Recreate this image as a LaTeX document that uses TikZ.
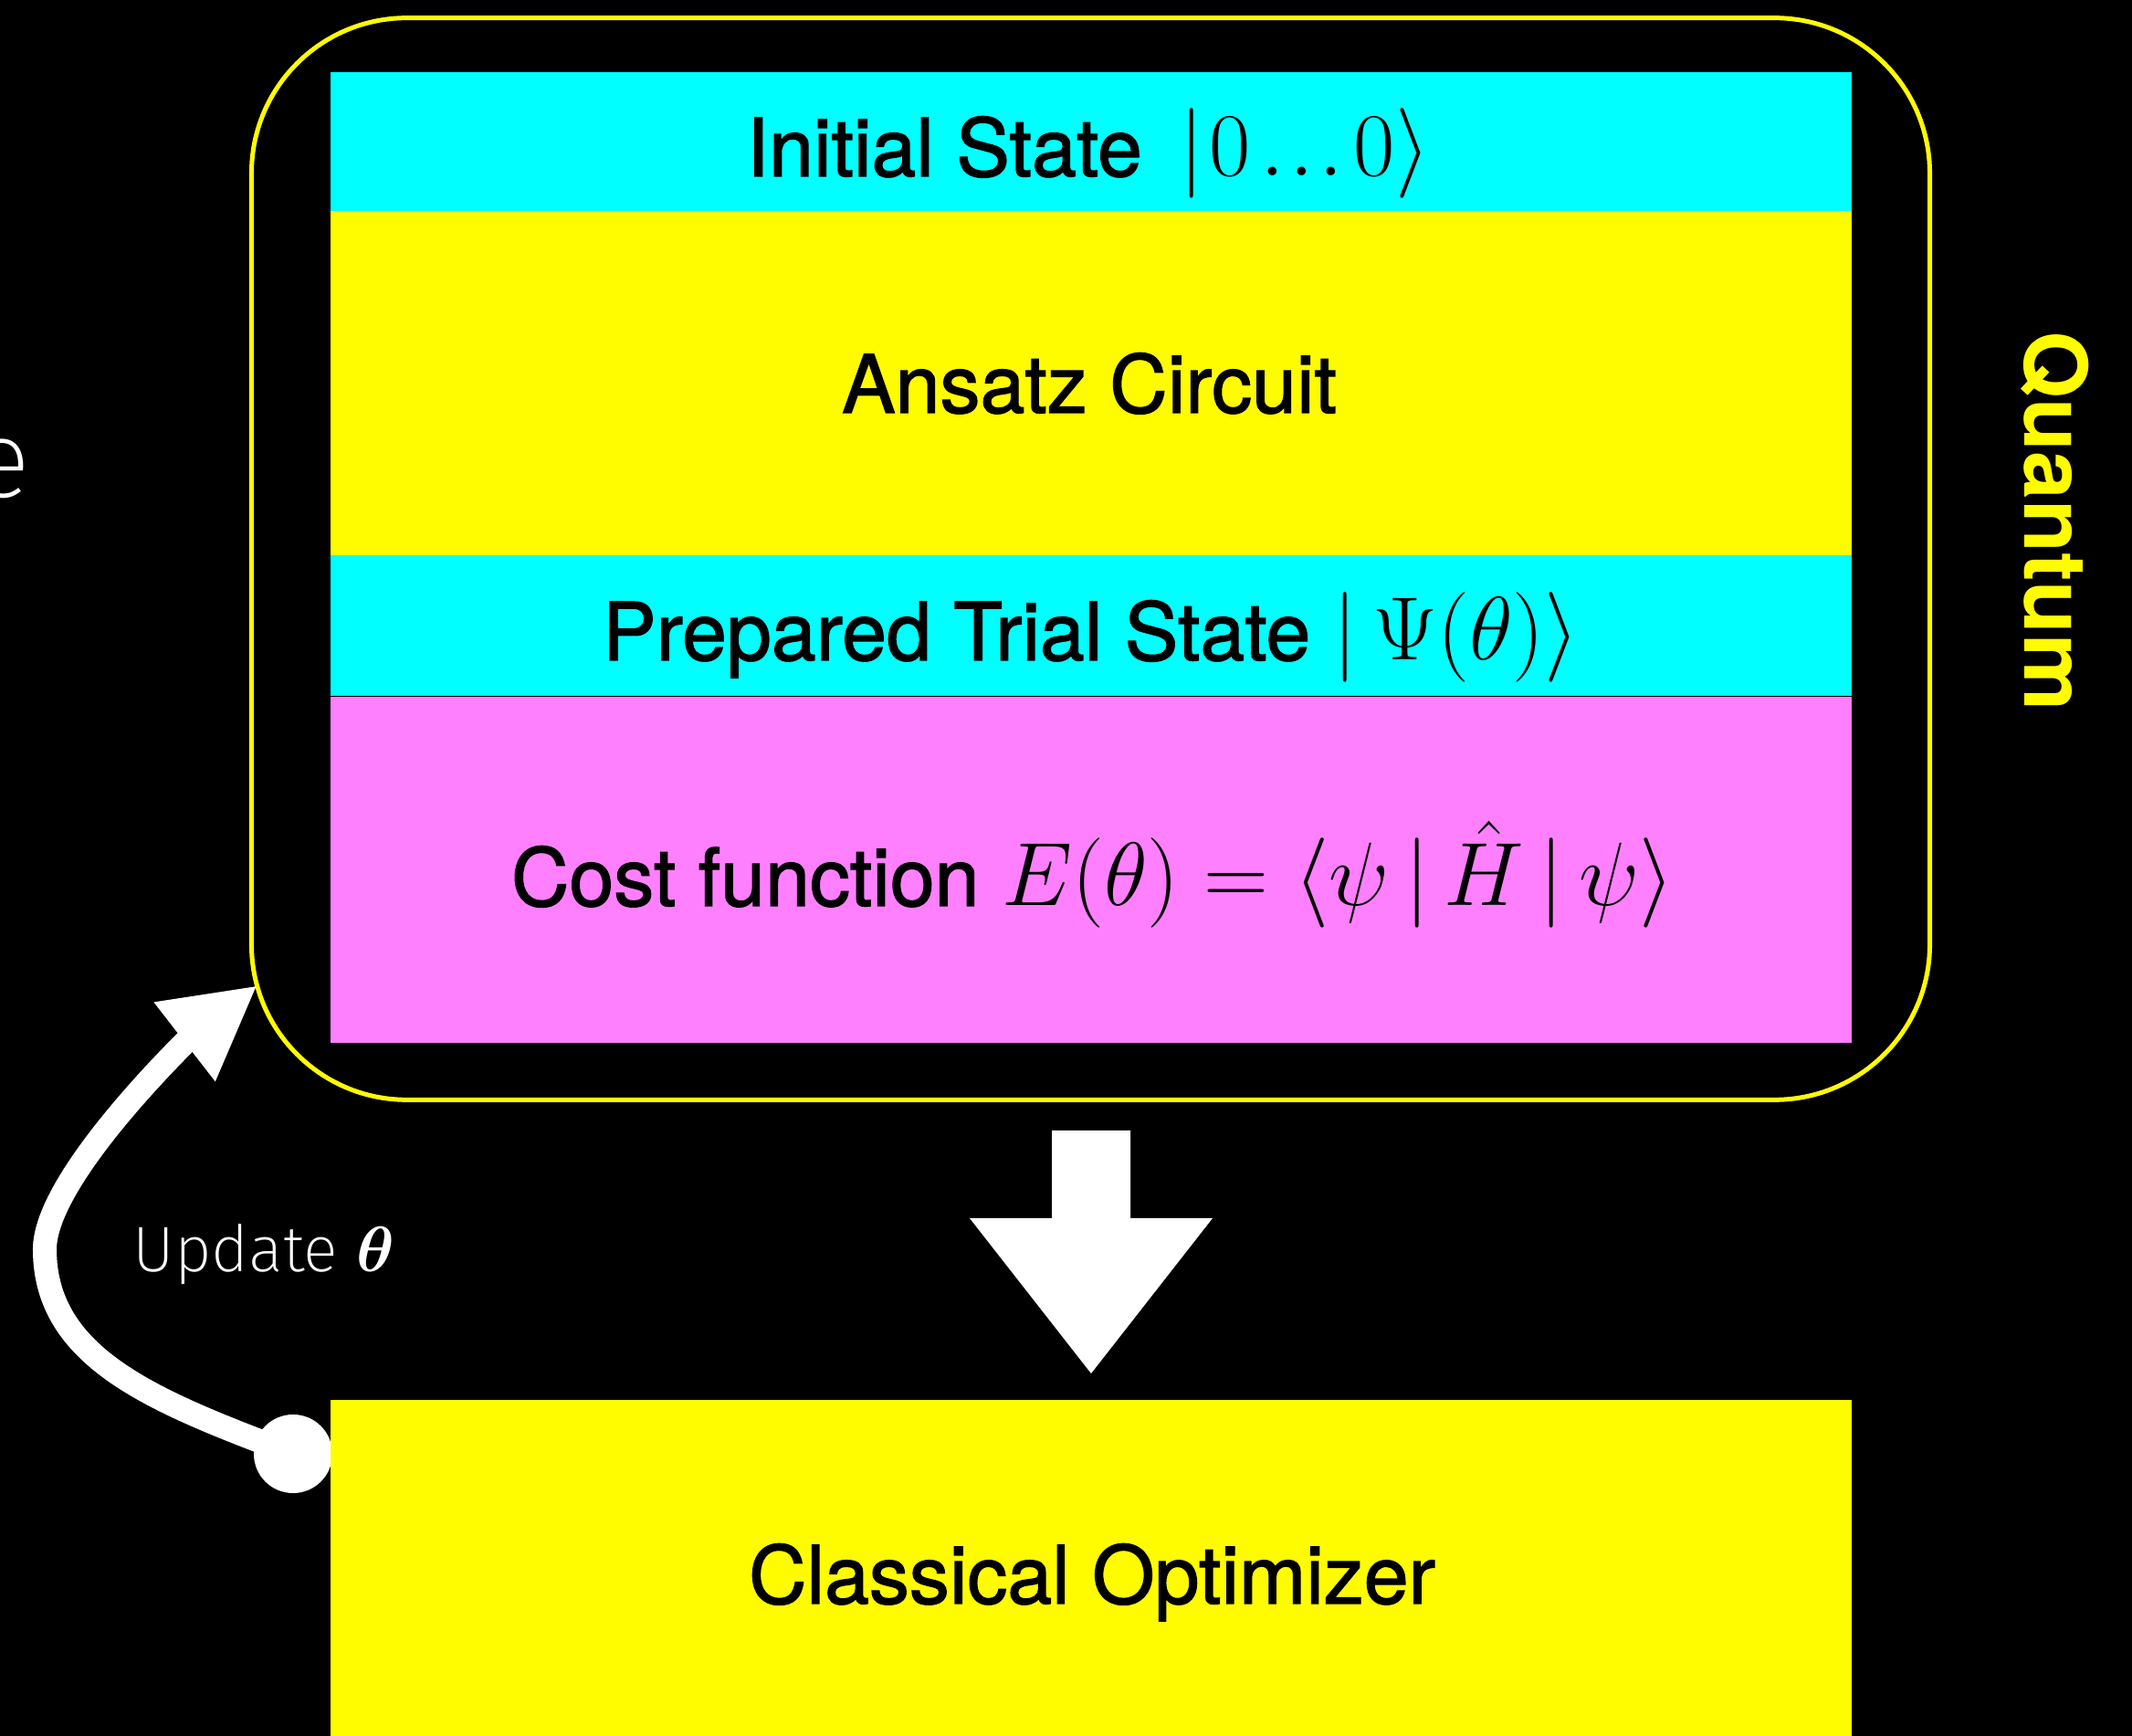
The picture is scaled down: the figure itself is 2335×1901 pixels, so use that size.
\RequirePackage{fix-cm}
\documentclass[tikz,border=0pt]{standalone}
\usepackage{amsmath}
\usepackage[no-math]{fontspec}
\setmainfont{TeX Gyre Heros}
\newfontfamily\labelfont{TeX Gyre Heros}[FakeBold=1.5]
\newfontfamily\thinfont{Fira Sans ExtraLight}
\usetikzlibrary{arrows.meta}

\definecolor{qyellow}{HTML}{FFFC00}
\definecolor{qcyan}{HTML}{00FFFF}
\definecolor{qpink}{HTML}{FF80FF}

% math set a little larger than the surrounding labels
\newcommand\eqpart[1]{{\fontsize{28}{33}\selectfont$#1$}}

\begin{document}
\begin{tikzpicture}[x=0.01cm,y=-0.01cm,
  band/.style={rectangle, inner sep=0, minimum width=16.66cm, draw=none},
  lbl/.style={inner sep=0, anchor=base, text=black, font=\fontsize{25}{30}\selectfont\labelfont},
  frame/.style={rectangle, draw=qyellow, line width=1.42pt, rounded corners=1.7cm, inner sep=0},
  loopline/.style={white, line width=7.4pt, -{Triangle[length=1.01cm,width=1.02cm]}}
]
\useasboundingbox (0,0) rectangle (2335,1901);
\fill[black] (0,0) rectangle (2335,1901);
\clip (0,0) rectangle (2335,1901);

% word cut off at the left edge
\node[anchor=base east, inner sep=0, text=white, font=\fontsize{34}{40}\selectfont\thinfont] (edgeword) at (34,545) {e};

% quantum part
\node[frame, minimum width=18.37cm, minimum height=11.84cm] (quantum) at (1194.5,612) {};
\node[band, fill=qcyan, minimum height=1.52cm] (initband) at (1195,155) {};
\node[band, fill=qyellow, minimum height=3.77cm] (ansatzband) at (1195,419.5) {};
\node[band, fill=qcyan, minimum height=1.54cm] (trialband) at (1195,685) {};
\node[band, fill=qpink, minimum height=3.80cm] (costband) at (1195,952) {};
\draw[black, line width=0.3pt] (trialband.south west) -- (trialband.south east);

\node[lbl] (init) at (1192,193) {Initial State \eqpart{\,\vert\mkern1mu 0\mkern2mu.\mkern1mu.\mkern1mu.\mkern2mu0\rangle}};
\node[lbl] (ansatz) at (1193,452) {Ansatz Circuit};
\node[lbl] (trial) at (1195,723) {Prepared Trial State \eqpart{\vert\,\Psi(\theta)\rangle}};
\node[lbl] (cost) at (1197,992) {Cost function \eqpart{E(\theta)=\langle\psi\,\vert\,\hat{H}\,\vert\,\psi\rangle}};

\node[rotate=-90, anchor=base, inner sep=0, text=qyellow, font=\fontsize{27}{32}\selectfont\bfseries] (qlabel) at (2217,571) {Quantum};

% block arrow down to the optimizer
\fill[white] (1152,1238) -- (1238,1238) -- (1238,1334) -- (1328,1334) -- (1195,1504) -- (1062,1334) -- (1152,1334) -- cycle;

% feedback loop
\node[circle, fill=white, minimum size=0.86cm, inner sep=0] (dot) at (321,1592) {};
\coordinate (tip) at (282,1079);
\draw[loopline] (dot.center) .. controls (170,1535) and (49,1488) .. (49,1368)
                .. controls (49,1288) and (211,1134) .. (tip);
\node[anchor=base west, inner sep=0, text=white, font=\fontsize{20}{24}\selectfont\thinfont] (update) at (145,1393) {Update $\boldsymbol{\theta}$};

% classical part
\node[band, fill=qyellow, minimum height=3.68cm] (classical) at (1195,1717) {};
\node[lbl] (classicaltext) at (1196,1756) {Classical Optimizer};
\end{tikzpicture}
\end{document}
